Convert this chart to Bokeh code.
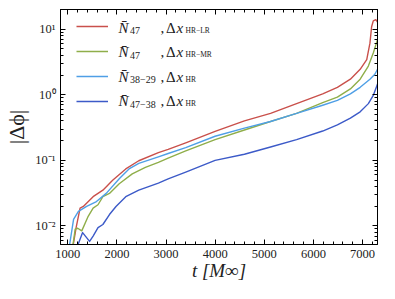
from bokeh.plotting import figure
from bokeh.models import (Range1d, LinearAxis, LogAxis, SingleIntervalTicker, FixedTicker,
                          Legend, LegendItem, Label)
from bokeh.embed import file_html
from bokeh.resources import INLINE

# ---- data ----
red_t = [1084, 1169, 1249, 1315, 1514, 1713, 1912, 2179, 2444, 2843, 3042, 3400, 3998, 4595,
         5127, 5657, 6189, 6488, 6753, 6952, 7086, 7151, 7185, 7219, 7271, 7305]
red_v = [0.004, 0.0095, 0.0187, 0.0198, 0.0279, 0.0351, 0.0496, 0.074, 0.0986, 0.131, 0.147,
         0.185, 0.277, 0.40, 0.52, 0.733, 1.035, 1.30, 1.73, 2.45, 3.45, 6.13, 10.9, 13.4, 14.0, 12.9]

green_t = [1084, 1149, 1200, 1283, 1414, 1514, 1614, 1713, 1847, 2046, 2311, 2578, 2843, 3042,
           3400, 3998, 4595, 5127, 5657, 6189, 6488, 6753, 6952, 7119, 7219, 7305]
green_v = [0.004, 0.0089, 0.0092, 0.0084, 0.014, 0.0187, 0.021, 0.0279, 0.0313, 0.044, 0.0622,
           0.0783, 0.093, 0.108, 0.139, 0.207, 0.29, 0.391, 0.52, 0.76, 0.92, 1.23, 1.73, 2.74,
           4.35, 6.9]

lblue_t = [1000, 1116, 1215, 1382, 1582, 1781, 2046, 2245, 2444, 2843, 3042, 3400, 3998, 4595,
           5127, 5657, 6189, 6488, 6753, 6952, 7151, 7251, 7305]
lblue_v = [0.0035, 0.0126, 0.0166, 0.0198, 0.0235, 0.0313, 0.0524, 0.074, 0.090, 0.113, 0.127,
           0.156, 0.233, 0.31, 0.391, 0.52, 0.692, 0.822, 1.035, 1.30, 1.73, 2.06, 2.45]

dblue_t = [1150, 1300, 1442, 1514, 1614, 1713, 1847, 1980, 2179, 2444, 2843, 3042, 3400, 3998,
           4595, 5127, 5657, 6189, 6488, 6753, 6952, 7119, 7219, 7305]
dblue_v = [0.004, 0.0079, 0.0058, 0.0070, 0.0094, 0.0105, 0.0149, 0.0198, 0.0279, 0.0351, 0.045,
           0.052, 0.066, 0.10, 0.124, 0.16, 0.207, 0.28, 0.347, 0.44, 0.55, 0.733, 0.976, 1.46]

series_t = [red_t, green_t, lblue_t, dblue_t]
series_v = [red_v, green_v, lblue_v, dblue_v]
colors = ["#c9504b", "#8fae4a", "#4f9fe6", "#3c5ac8"]
n_main = ["N\u0304", "N\u0304", "N\u0304", "N\u0304"]
n_sub = ["47", "47", "38\u221229", "47\u221238"]
dx_sub = ["HR\u2212LR", "HR\u2212MR", "HR", "HR"]

y_major = [0.01, 0.1, 1.0, 10.0]
y_major_labels = ["10\u207b\u00b2", "10\u207b\u00b9", "10\u2070", "10\u00b9"]

x_title = "t [M\u221e]"
y_title = "|\u0394\u03d5|"

SERIF = "Liberation Serif"
TXT = "#222222"

p = figure(width=379, height=283, output_backend="svg", toolbar_location=None,
           y_axis_type="log", x_range=Range1d(850, 7305), y_range=Range1d(0.0052, 20),
           min_border_left=60, min_border_right=2, min_border_top=9, min_border_bottom=34)
p.grid.visible = False
p.outline_line_color = "black"
p.background_fill_color = "white"

xt = SingleIntervalTicker(interval=1000, num_minor_ticks=5)
minor_y = [k * 10.0 ** e for e in range(-3, 2) for k in range(2, 10)]
yt = FixedTicker(ticks=y_major, minor_ticks=minor_y)

renderers = []
for t, v, c in zip(series_t, series_v, colors):
    r = p.line(t, v, line_color=c, line_width=1.4, line_join="round")
    renderers.append(r)

def style_axis(ax):
    ax.axis_line_color = "black"
    ax.axis_line_width = 1
    ax.major_tick_in = 5
    ax.major_tick_out = 0
    ax.minor_tick_in = 3
    ax.minor_tick_out = 0
    ax.major_tick_line_color = "black"
    ax.minor_tick_line_color = "black"
    ax.major_label_text_font = SERIF
    ax.major_label_text_color = TXT
    ax.major_label_text_font_size = "12.5px"
    ax.axis_label_text_font = SERIF
    ax.axis_label_text_color = TXT

xa = p.xaxis[0]
xa.ticker = xt
style_axis(xa)
xa.major_label_standoff = 5
xa.axis_label = x_title
xa.axis_label_text_font_style = "italic"
xa.axis_label_text_font_size = "19px"
xa.axis_label_standoff = -1

ya = p.yaxis[0]
ya.ticker = yt
ya.major_label_overrides = {v: s for v, s in zip(y_major, y_major_labels)}
style_axis(ya)
ya.major_label_standoff = 5
ya.axis_label = y_title
ya.axis_label_text_font_style = "normal"
ya.axis_label_text_font_size = "22px"
ya.axis_label_standoff = 3

top = LinearAxis(ticker=xt)
style_axis(top)
top.major_label_text_font_size = "1px"
top.major_label_text_alpha = 0
top.major_label_standoff = 0
p.add_layout(top, "above")
right = LogAxis(ticker=yt)
style_axis(right)
right.major_label_text_font_size = "1px"
right.major_label_text_alpha = 0
right.major_label_standoff = 0
p.add_layout(right, "right")

# legend (line samples)
items = [LegendItem(label=" ", renderers=[r]) for r in renderers]
leg = Legend(items=items, location=(16, 133), glyph_width=32, glyph_height=20,
             label_height=20, spacing=5, padding=0, margin=0,
             label_standoff=2, border_line_alpha=0, background_fill_alpha=0,
             label_text_font_size="10px")
p.add_layout(leg, "center")

# legend texts (screen units relative to frame)
baselines = [217, 192.5, 168, 143.5]
for i in range(4):
    yb = baselines[i]
    p.add_layout(Label(x=58, y=yb, x_units="screen", y_units="screen", text=n_main[i],
                       text_font=SERIF, text_font_style="italic", text_font_size="15px",
                       text_baseline="alphabetic", text_color=TXT))
    p.add_layout(Label(x=69.5, y=yb - 3, x_units="screen", y_units="screen", text=n_sub[i],
                       text_font=SERIF, text_font_size="10px",
                       text_baseline="alphabetic", text_color=TXT))
    p.add_layout(Label(x=100, y=yb, x_units="screen", y_units="screen", text=",",
                       text_font=SERIF, text_font_size="15px",
                       text_baseline="alphabetic", text_color=TXT))
    p.add_layout(Label(x=105.5, y=yb, x_units="screen", y_units="screen", text="\u0394",
                       text_font=SERIF, text_font_size="15px",
                       text_baseline="alphabetic", text_color=TXT))
    p.add_layout(Label(x=116, y=yb, x_units="screen", y_units="screen", text="x",
                       text_font=SERIF, text_font_style="italic", text_font_size="15px",
                       text_baseline="alphabetic", text_color=TXT))
    p.add_layout(Label(x=125, y=yb - 2.5, x_units="screen", y_units="screen", text=dx_sub[i],
                       text_font=SERIF, text_font_size="7.5px",
                       text_baseline="alphabetic", text_color=TXT))

open("out.html", "w").write(file_html(p, INLINE))
